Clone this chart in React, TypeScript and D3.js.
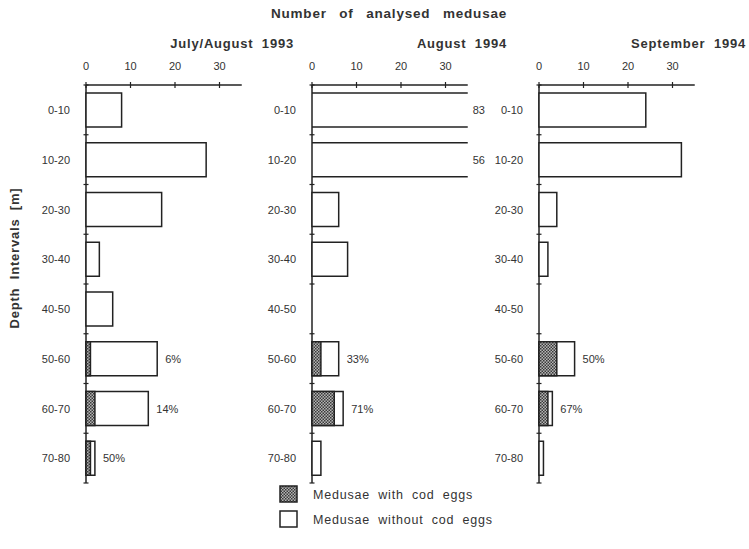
import React from "react";
import * as d3 from "d3";

// Depth intervals (rows) and the medusae counts per survey
const depthIntervals = ["0-10", "10-20", "20-30", "30-40", "40-50", "50-60", "60-70", "70-80"];

const surveyTitles = ["July/August 1993", "August 1994", "September 1994"];

const totalsJulAug1993 = [8, 27, 17, 3, 6, 16, 14, 2];
const withEggsJulAug1993 = [0, 0, 0, 0, 0, 1, 2, 1];

const totalsAug1994 = [83, 56, 6, 8, 0, 6, 7, 2];
const withEggsAug1994 = [0, 0, 0, 0, 0, 2, 5, 0];

const totalsSep1994 = [24, 32, 4, 2, 0, 8, 3, 1];
const withEggsSep1994 = [0, 0, 0, 0, 0, 4, 2, 0];

const xTicks = [0, 10, 20, 30];
const xMax = 35;

const legendLabels = ["Medusae with cod eggs", "Medusae without cod eggs"];

const W = 749;
const H = 549;
const FONT = "'Liberation Sans', Arial, Helvetica, sans-serif";
const INK = "#222";
const TEXT = "#333";

const panelOrigins = [86, 312, 539];
const panelWidth = 155.75;
const axisTop = 85;
const axisBottom = 483;

const surveys = [
  { totals: totalsJulAug1993, withEggs: withEggsJulAug1993 },
  { totals: totalsAug1994, withEggs: withEggsAug1994 },
  { totals: totalsSep1994, withEggs: withEggsSep1994 },
];

const yBand = d3.scaleBand<string>().domain(depthIntervals).range([axisTop, axisBottom]).padding(0);

const headingStyle = { letterSpacing: "0.8px", wordSpacing: "4px" };

function Panel({ index }: { index: number }) {
  const x0 = panelOrigins[index];
  const x = d3.scaleLinear().domain([0, xMax]).range([x0, x0 + panelWidth]);
  const { totals, withEggs } = surveys[index];
  const step = yBand.step();
  const barTop = 8;
  const barH = 34;
  const titleRight = [294, 507, 746][index];

  return (
    <g>
      <text x={titleRight} y={48} textAnchor="end" fontFamily={FONT} fontWeight="bold" fontSize={13} fill={TEXT} style={headingStyle}>
        {surveyTitles[index]}
      </text>
      {/* top value axis */}
      <line x1={x(0)} x2={x(xMax)} y1={axisTop} y2={axisTop} stroke={INK} strokeWidth={1.3} />
      {xTicks.map((t) => (
        <g key={t}>
          <line x1={x(t)} x2={x(t)} y1={axisTop - 3} y2={axisTop + 3} stroke={INK} strokeWidth={1.2} />
          <text x={x(t)} y={70} textAnchor="middle" fontFamily={FONT} fontSize={11} fill={TEXT}>
            {t}
          </text>
        </g>
      ))}
      {/* depth axis */}
      <line x1={x(0)} x2={x(0)} y1={axisTop} y2={axisBottom} stroke={INK} strokeWidth={1.5} />
      {d3.range(depthIntervals.length + 1).map((i) => (
        <line key={i} x1={x(0) - 2.5} x2={x(0) + 2.5} y1={axisTop + i * step} y2={axisTop + i * step} stroke={INK} strokeWidth={1.2} />
      ))}
      {depthIntervals.map((d, i) => {
        const top = (yBand(d) as number) + barTop;
        const cy = top + barH / 2;
        const total = totals[i];
        const eggs = withEggs[i];
        const broken = total > xMax;
        return (
          <g key={d}>
            <text x={x0 - 16} y={cy + 4} textAnchor="end" fontFamily={FONT} fontSize={11} fill={TEXT}>
              {d}
            </text>
            {total > 0 && !broken && (
              <rect x={x(0)} y={top} width={x(total) - x(0)} height={barH} fill="white" stroke={INK} strokeWidth={1.5} />
            )}
            {broken && (
              <g>
                <line x1={x(0)} x2={x(xMax)} y1={top} y2={top} stroke={INK} strokeWidth={1.5} />
                <line x1={x(0)} x2={x(xMax)} y1={top + barH} y2={top + barH} stroke={INK} strokeWidth={1.5} />
                <text x={x(xMax) + 5} y={cy + 4} fontFamily={FONT} fontSize={11} fill={TEXT}>
                  {total}
                </text>
              </g>
            )}
            {eggs > 0 && (
              <g>
                <rect x={x(0)} y={top} width={x(eggs) - x(0)} height={barH} fill="url(#eggHatch)" stroke={INK} strokeWidth={1.5} />
                <text x={x(total) + 8} y={cy + 4} fontFamily={FONT} fontSize={11} fill={TEXT}>
                  {Math.round((eggs / total) * 100)}%
                </text>
              </g>
            )}
          </g>
        );
      })}
    </g>
  );
}

export default function App() {
  return (
    <svg width={W} height={H} style={{ position: "absolute", left: 0, top: 0, background: "white" }}>
      <defs>
        <pattern id="eggHatch" width={3} height={3} patternUnits="userSpaceOnUse">
          <rect width={3} height={3} fill="#b5b5b5" />
          <rect x={0} y={0} width={1.5} height={1.5} fill="#3a3a3a" />
          <rect x={1.5} y={1.5} width={1.5} height={1.5} fill="#3a3a3a" />
        </pattern>
      </defs>
      <text
        x={389}
        y={18}
        textAnchor="middle"
        fontFamily={FONT}
        fontWeight="bold"
        fontSize={13.5}
        fill={TEXT}
        style={{ letterSpacing: "0.8px", wordSpacing: "8px" }}
      >
        Number of analysed medusae
      </text>
      <text
        transform="translate(19,258) rotate(-90)"
        textAnchor="middle"
        fontFamily={FONT}
        fontWeight="bold"
        fontSize={13}
        fill={TEXT}
        style={headingStyle}
      >
        Depth Intervals [m]
      </text>
      {surveys.map((_, i) => (
        <Panel key={i} index={i} />
      ))}
      {/* legend */}
      {legendLabels.map((label, i) => (
        <g key={label}>
          <rect
            x={280}
            y={486 + i * 25}
            width={17}
            height={16}
            fill={i === 0 ? "url(#eggHatch)" : "white"}
            stroke={INK}
            strokeWidth={1.5}
          />
          <text x={313} y={498.5 + i * 25} fontFamily={FONT} fontSize={12.5} fill={TEXT} style={{ letterSpacing: "0.8px", wordSpacing: "4px" }}>
            {label}
          </text>
        </g>
      ))}
    </svg>
  );
}
